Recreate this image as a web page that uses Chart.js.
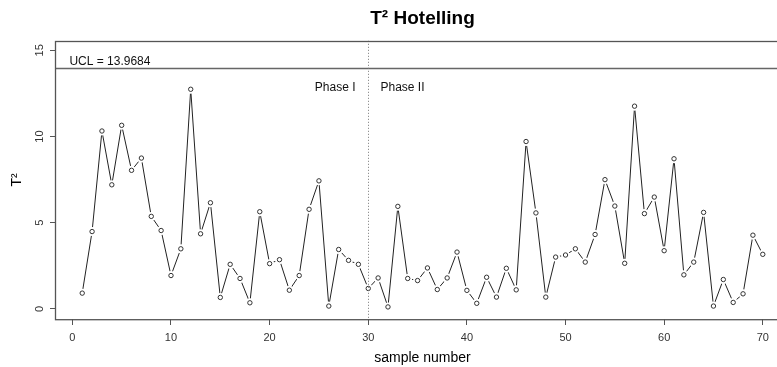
<!DOCTYPE html>
<html>
<head>
<meta charset="utf-8">
<script src="https://cdn.jsdelivr.net/npm/chart.js@4/dist/chart.umd.min.js"></script>
<style>
  html, body { margin: 0; padding: 0; background: #fff; overflow: hidden; }
  canvas { display: block; }
</style>
</head>
<body>
<canvas id="chart1" width="795" height="367"></canvas>
<script>
// T2 values per sample
var samples = [];
for (var k = 1; k <= 70; k++) samples.push(k);
var t2Values = [0.92, 4.49, 10.32, 7.20, 10.65, 8.04, 8.75, 5.37, 4.55, 1.94,
                3.49, 12.74, 4.36, 6.16, 0.67, 2.59, 1.77, 0.36, 5.64, 2.63,
                2.86, 1.09, 1.94, 5.78, 7.43, 0.17, 3.45, 2.82, 2.59, 1.19,
                1.80, 0.12, 5.95, 1.77, 1.65, 2.38, 1.13, 1.80, 3.30, 1.08,
                0.33, 1.84, 0.69, 2.36, 1.11, 9.71, 5.57, 0.69, 3.01, 3.13,
                3.49, 2.72, 4.32, 7.50, 5.97, 2.65, 11.76, 5.53, 6.49, 3.38,
                8.71, 1.98, 2.72, 5.60, 0.17, 1.71, 0.38, 0.88, 4.28, 3.17];
var ucl = 13.9684;
var phaseSplit = 30;
var xTickValues = [0, 10, 20, 30, 40, 50, 60, 70];
var yTickValues = [0, 5, 10, 15];

var points = samples.map(function (s, i) { return { x: s, y: t2Values[i] }; });
var axisColor = '#555';
var font = 'Liberation Sans, Arial, sans-serif';

// box, UCL line, phase divider and labels
var controlLines = {
    id: 'controlLines',
    afterDatasetsDraw: function (chart) {
        var ctx = chart.ctx, a = chart.chartArea;
        var xs = chart.scales.x, ys = chart.scales.y;
        var yU = Math.round(ys.getPixelForValue(ucl)) + 0.5;
        var xP = Math.round(xs.getPixelForValue(phaseSplit)) + 0.5;
        ctx.save();
        ctx.strokeStyle = '#666';
        ctx.lineWidth = 1.3;
        ctx.beginPath();
        ctx.moveTo(a.left, yU);
        ctx.lineTo(a.right, yU);
        ctx.stroke();
        ctx.strokeStyle = '#777';
        ctx.lineWidth = 1;
        ctx.setLineDash([1, 2]);
        ctx.beginPath();
        ctx.moveTo(xP, a.top);
        ctx.lineTo(xP, a.bottom);
        ctx.stroke();
        ctx.setLineDash([]);
        ctx.strokeStyle = axisColor;
        ctx.lineWidth = 1.3;
        ctx.strokeRect(Math.round(a.left) + 0.5, Math.round(a.top) + 0.5, a.right - a.left, a.bottom - a.top);
        ctx.fillStyle = '#111';
        ctx.font = '12px ' + font;
        ctx.textBaseline = 'bottom';
        ctx.textAlign = 'left';
        ctx.fillText('UCL = ' + ucl, xs.getPixelForValue(-0.3), yU - 1);
        ctx.textBaseline = 'middle';
        ctx.textAlign = 'right';
        ctx.fillText('Phase I', xP - 13, yU + 19);
        ctx.textAlign = 'left';
        ctx.fillText('Phase II', xP + 12, yU + 19);
        ctx.restore();
    }
};

var char1El = document.getElementById('chart1');
new Chart(char1El, {
    type: 'scatter',
    data: {
        datasets: [{
            label: 'line',
            data: points,
            showLine: true,
            borderColor: '#222',
            borderWidth: 1,
            pointRadius: 0,
            order: 3
        }, {
            label: 'gap',
            data: points,
            showLine: false,
            pointRadius: 4.5,
            pointBackgroundColor: '#fff',
            pointBorderColor: '#fff',
            pointBorderWidth: 0,
            order: 2
        }, {
            label: 'T2',
            data: points,
            showLine: false,
            pointRadius: 2.2,
            pointBackgroundColor: '#fff',
            pointBorderColor: '#333',
            pointBorderWidth: 1,
            order: 1
        }]
    },
    options: {
        responsive: false,
        animation: false,
        layout: { padding: { left: 0, right: 2, top: 0, bottom: 0 } },
        plugins: {
            legend: { display: false },
            tooltip: { enabled: false },
            title: {
                display: true,
                text: 'T² Hotelling',
                fullSize: false,
                color: '#000',
                font: { family: font, size: 19, weight: 'bold' },
                padding: { top: 7, bottom: 11 }
            }
        },
        scales: {
            x: {
                type: 'linear',
                min: -1.76,
                max: 72.76,
                afterBuildTicks: function (s) { s.ticks = xTickValues.map(function (v) { return { value: v }; }); },
                afterFit: function (s) { s.height = 48; },
                grid: { display: true, drawOnChartArea: false, drawTicks: true, tickLength: 6, color: axisColor },
                border: { display: false },
                ticks: { color: '#333', font: { family: font, size: 11 }, padding: 6, maxRotation: 0 },
                title: { display: true, text: 'sample number', color: '#000', font: { family: font, size: 14 }, padding: { top: 0, bottom: 0 } }
            },
            y: {
                type: 'linear',
                min: -0.58,
                max: 15.55,
                afterBuildTicks: function (s) { s.ticks = yTickValues.map(function (v) { return { value: v }; }); },
                afterFit: function (s) { s.width = 55; },
                grid: { display: true, drawOnChartArea: false, drawTicks: true, tickLength: 5, color: axisColor },
                border: { display: false },
                ticks: { color: '#333', font: { family: font, size: 11 }, padding: 4, minRotation: 90, maxRotation: 90, crossAlign: 'center' },
                title: { display: true, text: 'T²', color: '#000', font: { family: font, size: 14 }, padding: { top: 9, bottom: 0 } }
            }
        }
    },
    plugins: [controlLines]
});
</script>
</body>
</html>
